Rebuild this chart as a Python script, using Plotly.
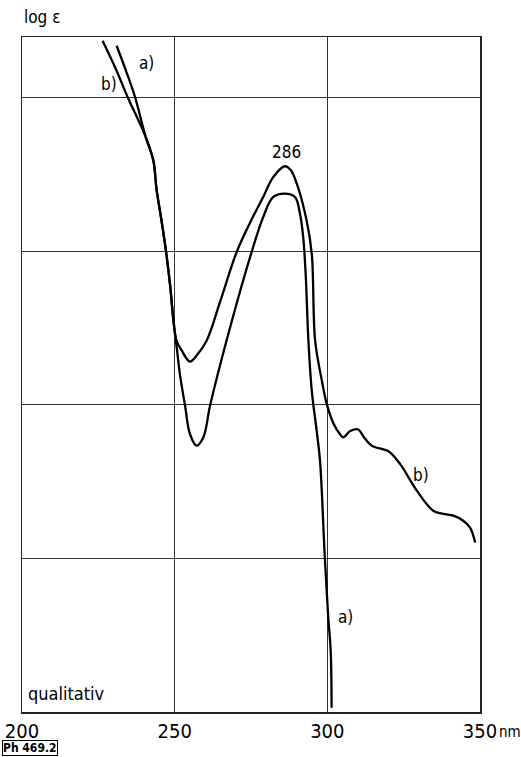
import plotly.graph_objects as go

# curve a)
a_nm = [231.0, 234.0, 237.0, 240.5, 243.0, 244.1, 245.7, 247.2, 248.5, 249.6, 250.7, 251.7, 253.4,
        255.0, 257.2, 259.4, 261.6, 267.0, 275.2, 279.0, 282.3, 286.1, 289.4, 291.0, 292.1,
        292.9, 293.8, 294.9, 296.5, 297.6, 299.2, 300.3, 301.1, 301.4]
a_log = [4.34, 4.18, 4.007, 3.746, 3.594, 3.399, 3.2, 2.996, 2.78, 2.55, 2.37, 2.203, 1.996,
         1.811, 1.735, 1.789, 1.996, 2.42, 2.996, 3.224, 3.355, 3.377, 3.355, 3.25, 3.094,
         2.855, 2.42, 2.094, 1.833, 1.637, 0.996, 0.615, 0.398, 0.028]

# curve b)
b_nm = [226.4, 230.7, 234.8, 238.0, 240.5, 243.0, 244.1, 245.7, 247.2, 248.5, 249.6, 250.6,
        252.3, 255.0, 257.5, 260.5, 265.0, 270.3, 275.0, 279.0, 282.3, 286.1, 288.0, 290.0,
        293.2, 294.9, 296.0, 298.2, 299.8, 302.0, 304.1, 305.2, 307.5, 310.1, 312.0, 314.5,
        320.0, 323.8, 329.3, 334.7, 338.0, 341.3, 344.5, 346.8, 348.4]
b_log = [4.373, 4.19, 3.997, 3.86, 3.746, 3.594, 3.399, 3.2, 2.996, 2.78, 2.55, 2.42,
         2.355, 2.283, 2.33, 2.42, 2.68, 2.996, 3.2, 3.355, 3.485, 3.555, 3.53, 3.442,
         3.203, 2.986, 2.42, 2.159, 2.007, 1.88, 1.811, 1.789, 1.83, 1.84, 1.79, 1.735,
         1.698, 1.616, 1.442, 1.311, 1.29, 1.279, 1.246, 1.2, 1.104]

x_ticks = [200, 250, 300, 350]
x_tick_labels = ["200", "250", "300", "350"]
y_grid = [0, 1, 2, 3, 4]

FONT = "DejaVu Sans Condensed, Liberation Sans Narrow, Roboto Condensed, sans-serif"

fig = go.Figure()
for xs, ys in [(a_nm, a_log), (b_nm, b_log)]:
    fig.add_trace(go.Scatter(x=xs, y=ys, mode="lines",
                             line=dict(color="black", width=2.3, shape="spline", smoothing=1.0),
                             showlegend=False, hoverinfo="skip"))

fig.update_layout(
    width=521, height=757,
    margin=dict(l=22, r=41, t=37, b=45),
    paper_bgcolor="white", plot_bgcolor="white",
    font=dict(family=FONT, color="black", size=18),
    xaxis=dict(range=[200, 350], tickvals=x_ticks, ticktext=x_tick_labels,
               showgrid=True, gridcolor="#333", gridwidth=1, automargin=False,
               showline=True, mirror=True, linecolor="#222", linewidth=1.5,
               ticks="", zeroline=False, tickfont=dict(size=20, family=FONT)),
    yaxis=dict(range=[0, 4.397], tickvals=y_grid, showticklabels=False,
               showgrid=True, gridcolor="#333", gridwidth=1, automargin=False,
               showline=True, mirror=True, linecolor="#222", linewidth=1.5,
               ticks="", zeroline=False),
)

ann = [
    dict(text="log ε", x=0, xref="paper", xanchor="left", y=1.0, yref="paper",
         yanchor="bottom", yshift=8, font=dict(size=17)),
    dict(text="qualitativ", x=0, xref="paper", xanchor="left", xshift=4, y=0, yref="paper",
         yanchor="bottom", yshift=6, font=dict(size=18)),
    dict(text="nm", x=1, xref="paper", xanchor="left", xshift=17, y=0, yref="paper",
         yanchor="top", yshift=-9, font=dict(size=15)),
    dict(text="286", x=286.5, y=3.646, xref="x", yref="y", yanchor="middle", font=dict(size=17)),
    dict(text="a)", x=237.8, y=4.23, xref="x", yref="y", xanchor="left", font=dict(size=17)),
    dict(text="b)", x=225.3, y=4.09, xref="x", yref="y", xanchor="left", font=dict(size=17)),
    dict(text="b)", x=327.5, y=1.545, xref="x", yref="y", xanchor="left", font=dict(size=17)),
    dict(text="a)", x=302.8, y=0.62, xref="x", yref="y", xanchor="left", font=dict(size=17)),
    dict(text="<b>Ph 469.2</b>", x=0, xref="paper", xanchor="left", xshift=-20, y=0, yref="paper",
         yanchor="top", yshift=-28, font=dict(size=12), bordercolor="black", borderwidth=1,
         borderpad=0),
]
for a in ann:
    a.setdefault("showarrow", False)
    fig.add_annotation(**a)

fig.write_html("out.html", config={"displayModeBar": False, "staticPlot": True})

# remove the default page margin so the figure fills the window exactly
with open("out.html", "r", encoding="utf-8") as f:
    html = f.read()
html = html.replace("<head>", "<head><style>html,body{margin:0;padding:0;overflow:hidden;}</style>", 1)
with open("out.html", "w", encoding="utf-8") as f:
    f.write(html)
